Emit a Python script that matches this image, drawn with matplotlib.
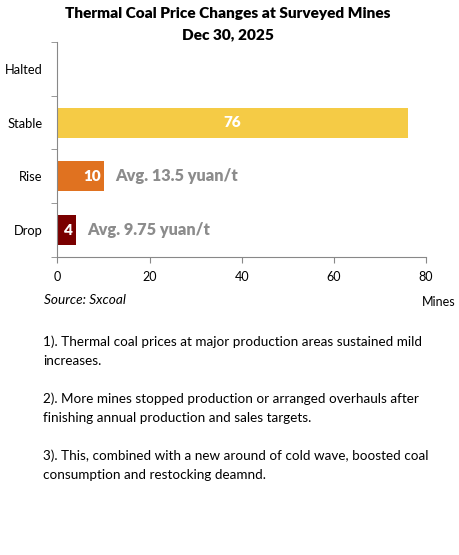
import matplotlib.pyplot as plt

plt.rcParams['font.family'] = ['Lato', 'DejaVu Sans']

# data
categories = ["Drop", "Rise", "Stable", "Halted"]
mines = [4, 10, 76, 0]
bar_colors = ["#7a0000", "#e07220", "#f5cb45", "#999999"]
avg_labels = ["Avg. 9.75 yuan/t", "Avg. 13.5 yuan/t", "", ""]
x_ticks = [0, 20, 40, 60, 80]
notes = [
    "1). Thermal coal prices at major production areas sustained mild\nincreases.",
    "2). More mines stopped production or arranged overhauls after\nfinishing annual production and sales targets.",
    "3). This, combined with a new around of cold wave, boosted coal\nconsumption and restocking deamnd.",
]

fig = plt.figure(figsize=(4.6, 5.55), dpi=100)
ax = fig.add_axes([57.5 / 460, 1 - 257 / 555, (426 - 57.5) / 460, (257 - 42) / 555])

pos = list(range(len(categories)))
ax.barh(pos, mines, height=0.56, color=bar_colors)

for i, v in enumerate(mines):
    if v == 0:
        continue
    if v > 20:
        ax.text(v / 2, i, str(v), ha='center', va='center', color='white',
                fontsize=11, fontweight='heavy')
    else:
        ax.text(v - 0.6, i, str(v), ha='right', va='center', color='white',
                fontsize=11, fontweight='heavy')
    if avg_labels[i]:
        ax.text(v + 2.5, i, avg_labels[i], ha='left', va='center', color='#8c8c8c',
                fontsize=11.8, fontweight='heavy')

ax.set_xlim(0, 80)
ax.set_ylim(-0.5, len(categories) - 0.5)
ax.set_xticks(x_ticks)
ax.set_yticks(pos)
ax.set_yticklabels(categories)
ax.set_yticks([p - 0.5 for p in pos] + [len(categories) - 0.5], minor=True)
ax.tick_params(axis='y', which='major', length=0, pad=11, labelsize=9.3)
ax.tick_params(axis='y', which='minor', length=4, color='#888888')
ax.tick_params(axis='x', length=4, color='#888888', labelsize=9, pad=6)

for s in ['top', 'right']:
    ax.spines[s].set_visible(False)
for s in ['left', 'bottom']:
    ax.spines[s].set_color('#888888')
    ax.spines[s].set_linewidth(0.8)

fig.text(228 / 460, 1 - 13 / 555, "Thermal Coal Price Changes at Surveyed Mines",
         ha='center', va='center', fontsize=11.1, fontweight='heavy')
fig.text(228 / 460, 1 - 35 / 555, "Dec 30, 2025",
         ha='center', va='center', fontsize=11.1, fontweight='heavy')

fig.text(44 / 460, 1 - 300 / 555, "Source: Sxcoal", ha='left', va='center',
         fontsize=9.8, style='italic')
fig.text(422 / 460, 1 - 302 / 555, "Mines", ha='left', va='center', fontsize=9)

note_y = [341, 398, 455]
for y, t in zip(note_y, notes):
    fig.text(43 / 460, 1 - (y - 6) / 555, t, ha='left', va='top', fontsize=9.7,
             linespacing=1.75)

fig.savefig("out.png", dpi=100)
